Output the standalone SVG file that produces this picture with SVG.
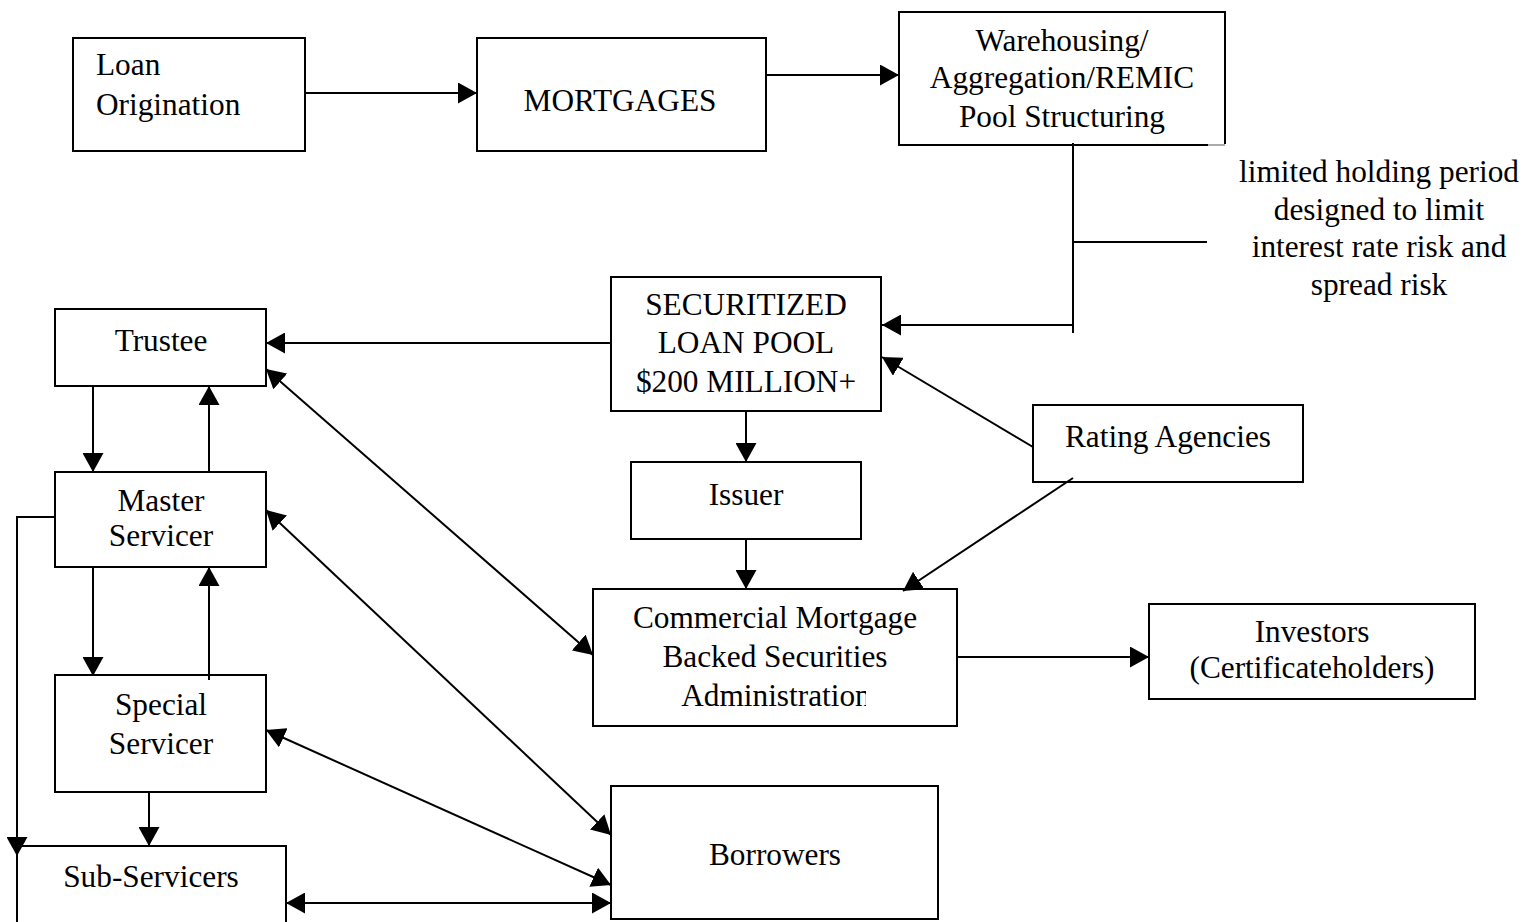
<svg xmlns="http://www.w3.org/2000/svg" width="1525" height="922" viewBox="0 0 1525 922">
<style>
.box{fill:#fff;stroke:#000;stroke-width:2}
.t{font-family:"Liberation Serif","Times New Roman",serif;font-size:31.3px;fill:#000}
.c{text-anchor:middle}
.ln{fill:none;stroke:#000;stroke-width:2}
</style>
<defs>
<marker id="ah" markerUnits="userSpaceOnUse" markerWidth="20" markerHeight="21" refX="19" refY="10.5" orient="auto-start-reverse" viewBox="0 0 20 21">
<path d="M0,0 L19,10.5 L0,21 z" fill="#000"/>
</marker>
<clipPath id="admclip"><rect x="593" y="589" width="273" height="137"/></clipPath>
</defs>
<rect width="1525" height="922" fill="#fff"/>

<g id="loan-origination">
<rect class="box" x="73" y="38" width="232" height="113"/>
<text class="t" x="96" y="75">Loan</text>
<text class="t" x="96" y="115">Origination</text>
</g>
<g id="mortgages">
<rect class="box" x="477" y="38" width="289" height="113"/>
<text class="t c" x="620" y="111">MORTGAGES</text>
</g>
<g id="warehousing">
<rect x="899" y="12" width="326" height="133" fill="#fff"/>
<path class="ln" d="M899,145 V12 H1225 V144"/>
<path class="ln" d="M898,145 H1208"/>
<path d="M1208,145 H1225" stroke="#aaa" stroke-width="2"/>
<text class="t c" x="1062" y="51">Warehousing/</text>
<text class="t c" x="1062" y="88">Aggregation/REMIC</text>
<text class="t c" x="1062" y="127">Pool Structuring</text>
</g>
<g id="holding-note">
<text class="t c" x="1379" y="182">limited holding period</text>
<text class="t c" x="1379" y="220">designed to limit</text>
<text class="t c" x="1379" y="257">interest rate risk and</text>
<text class="t c" x="1379" y="295">spread risk</text>
</g>
<g id="securitized-loan-pool">
<rect class="box" x="611" y="277" width="270" height="134"/>
<text class="t c" x="746" y="315">SECURITIZED</text>
<text class="t c" x="746" y="353">LOAN POOL</text>
<text class="t c" x="746" y="392">$200 MILLION+</text>
</g>
<g id="trustee">
<rect class="box" x="55" y="309" width="211" height="77"/>
<text class="t c" x="161" y="351">Trustee</text>
</g>
<g id="master-servicer">
<rect class="box" x="55" y="472" width="211" height="95"/>
<text class="t c" x="161" y="511">Master</text>
<text class="t c" x="161" y="546">Servicer</text>
</g>
<g id="special-servicer">
<rect class="box" x="55" y="675" width="211" height="117"/>
<text class="t c" x="161" y="715">Special</text>
<text class="t c" x="161" y="754">Servicer</text>
</g>
<g id="sub-servicers">
<rect class="box" x="17" y="846" width="269" height="90"/>
<text class="t c" x="151" y="887">Sub-Servicers</text>
</g>
<g id="issuer">
<rect class="box" x="631" y="462" width="230" height="77"/>
<text class="t c" x="746" y="505">Issuer</text>
</g>
<g id="rating-agencies">
<rect class="box" x="1033" y="405" width="270" height="77"/>
<text class="t c" x="1168" y="447">Rating Agencies</text>
</g>
<g id="cmbs-administration">
<rect class="box" x="593" y="589" width="364" height="137"/>
<text class="t c" x="775" y="628">Commercial Mortgage</text>
<text class="t c" x="775" y="667">Backed Securities</text>
<text class="t c" x="776" y="706" clip-path="url(#admclip)">Administration</text>
</g>
<g id="investors">
<rect class="box" x="1149" y="604" width="326" height="95"/>
<text class="t c" x="1312" y="642">Investors</text>
<text class="t c" x="1312" y="678">(Certificateholders)</text>
</g>
<g id="borrowers">
<rect class="box" x="611" y="786" width="327" height="133"/>
<text class="t c" x="775" y="865">Borrowers</text>
</g>

<g id="connectors" class="ln">
<path class="ln" d="M305,93 H477" marker-end="url(#ah)"/>
<path class="ln" d="M766,75 H899" marker-end="url(#ah)"/>
<path class="ln" d="M1073,143 V333"/>
<path class="ln" d="M1073,242 H1207"/>
<path class="ln" d="M1073,325 H882" marker-end="url(#ah)"/>
<path class="ln" d="M611,343 H266" marker-end="url(#ah)"/>
<path class="ln" d="M746,411 V462" marker-end="url(#ah)"/>
<path class="ln" d="M746,539 V589" marker-end="url(#ah)"/>
<path class="ln" d="M1033,447 L882,357" marker-end="url(#ah)"/>
<path class="ln" d="M1073,478 L903,591" marker-end="url(#ah)"/>
<path class="ln" d="M957,657 H1149" marker-end="url(#ah)"/>
<path class="ln" d="M266,369 L593,655" marker-start="url(#ah)" marker-end="url(#ah)"/>
<path class="ln" d="M266,510 L611,835" marker-start="url(#ah)" marker-end="url(#ah)"/>
<path class="ln" d="M266,730 L611,885" marker-start="url(#ah)" marker-end="url(#ah)"/>
<path class="ln" d="M286,903 H611" marker-start="url(#ah)" marker-end="url(#ah)"/>
<path class="ln" d="M93,386 V472" marker-end="url(#ah)"/>
<path class="ln" d="M209,472 V386" marker-end="url(#ah)"/>
<path class="ln" d="M93,567 V676" marker-end="url(#ah)"/>
<path class="ln" d="M209,680 V567" marker-end="url(#ah)"/>
<path class="ln" d="M149,792 V846" marker-end="url(#ah)"/>
<path class="ln" d="M55,517 H17 V856" marker-end="url(#ah)"/>
</g>
</svg>
